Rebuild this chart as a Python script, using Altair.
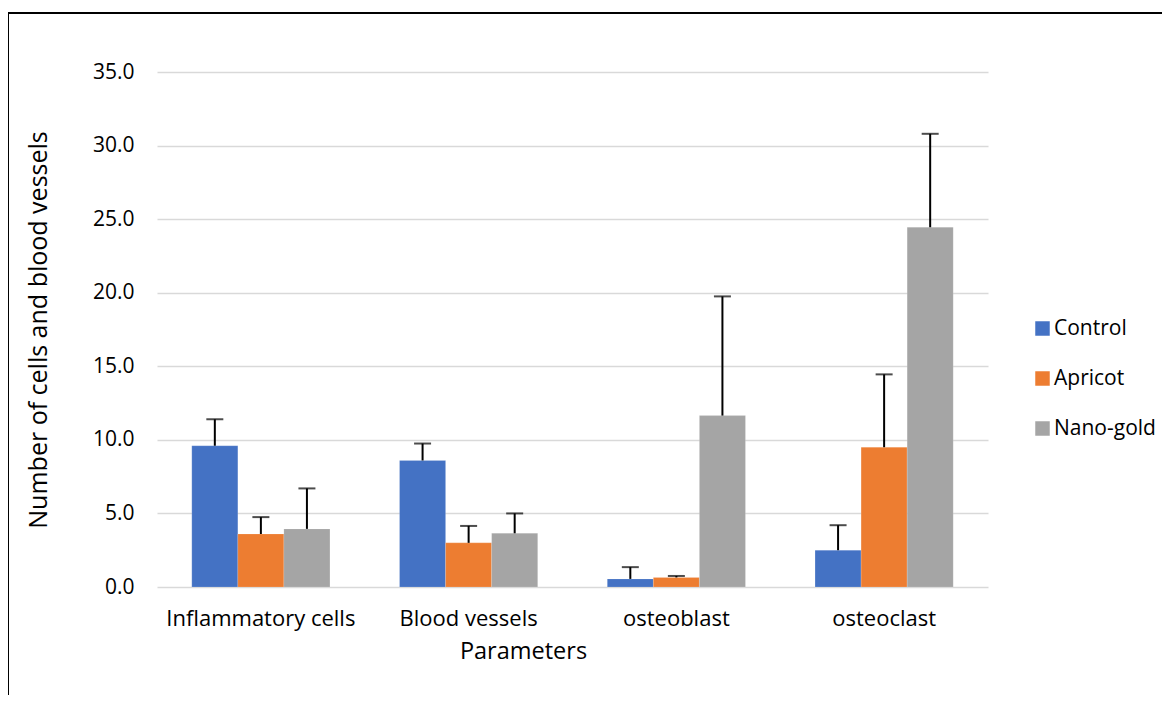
import altair as alt
import pandas as pd

categories = ["Inflammatory cells", "Blood vessels", "osteoblast", "osteoclast"]
groups = ["Control", "Apricot", "Nano-gold"]
control = [9.6, 8.6, 0.55, 2.5]
control_err = [1.8, 1.15, 0.8, 1.7]
apricot = [3.6, 3.0, 0.65, 9.5]
apricot_err = [1.15, 1.15, 0.1, 4.95]
nanogold = [3.95, 3.65, 11.65, 24.45]
nanogold_err = [2.75, 1.35, 8.1, 6.35]
colors = ["#4472C4", "#ED7D31", "#A5A5A5"]

rows = []
for g, vals, errs in [("Control", control, control_err),
                      ("Apricot", apricot, apricot_err),
                      ("Nano-gold", nanogold, nanogold_err)]:
    for c, v, e in zip(categories, vals, errs):
        rows.append({"category": c, "group": g, "value": v, "upper": v + e})
df = pd.DataFrame(rows)

FONT = "Open Sans"

x_enc = alt.X("category:N", sort=categories,
              scale=alt.Scale(paddingInner=0.335, paddingOuter=0.1675),
              axis=alt.Axis(title="Parameters", labelAngle=0, ticks=False, grid=False,
                            domain=False, labelPadding=21, labelFontSize=22, labelLimit=0,
                            labelFont=FONT, labelColor="#000000",
                            titleFont=FONT, titleFontSize=23.5, titleFontWeight="normal",
                            titleColor="#000000", titleX=366, titleY=64,
                            titleAlign="center", titleBaseline="middle"))
xo = alt.XOffset("group:N", sort=groups)
y_scale = alt.Scale(domain=[0, 35], nice=False)

base = alt.Chart(df)

bars = base.mark_bar(stroke="#ffffff", strokeOpacity=0.3, strokeWidth=0.5).encode(
    x=x_enc,
    xOffset=xo,
    y=alt.Y("value:Q", scale=y_scale,
            axis=alt.Axis(title="Number of cells and blood vessels", values=[0, 5, 10, 15, 20, 25, 30, 35],
                          format=".1f", ticks=False, domain=False, labelPadding=23,
                          labelFontSize=21, labelFont=FONT, labelColor="#000000",
                          grid=True, gridColor="#d9d9d9", gridWidth=1.5,
                          titleFont=FONT, titleFontSize=25, titleFontWeight="normal",
                          titleColor="#000000", titleX=-119, titleY=257.5,
                          titleAngle=270, titleAlign="center", titleBaseline="middle")),
    color=alt.Color("group:N", sort=groups,
                    scale=alt.Scale(domain=groups, range=colors),
                    legend=alt.Legend(title=None, orient="none", legendX=875, legendY=246,
                                      symbolType="square", symbolSize=210,
                                      symbolStrokeWidth=0, labelFont=FONT,
                                      labelFontSize=21, labelColor="#000000",
                                      rowPadding=28, labelOffset=1, padding=0)),
)

err = base.mark_rule(color="#000000", strokeWidth=2).encode(
    x=alt.X("category:N", sort=categories),
    xOffset=xo,
    y=alt.Y("value:Q", scale=y_scale),
    y2="upper:Q",
)

caps = base.mark_tick(color="#000000", thickness=2, size=17).encode(
    x=alt.X("category:N", sort=categories),
    xOffset=xo,
    y=alt.Y("upper:Q", scale=y_scale),
)

frame = alt.Chart(pd.DataFrame({"a": [0]})).mark_rect(
    fillOpacity=0, stroke="#000000", strokeWidth=2
).encode(x=alt.value(-149), x2=alt.value(1040), y=alt.value(-59), y2=alt.value(700))

chart = alt.layer(bars, err, caps, frame).properties(
    width=831, height=515,
    padding={"left": 149, "top": 64, "right": 174, "bottom": 108},
    autosize=alt.AutoSizeParams(type="none"),
).configure(font=FONT).configure_view(stroke="transparent", strokeWidth=0)

chart.save("out.html", embed_options={"renderer": "svg", "actions": False})
